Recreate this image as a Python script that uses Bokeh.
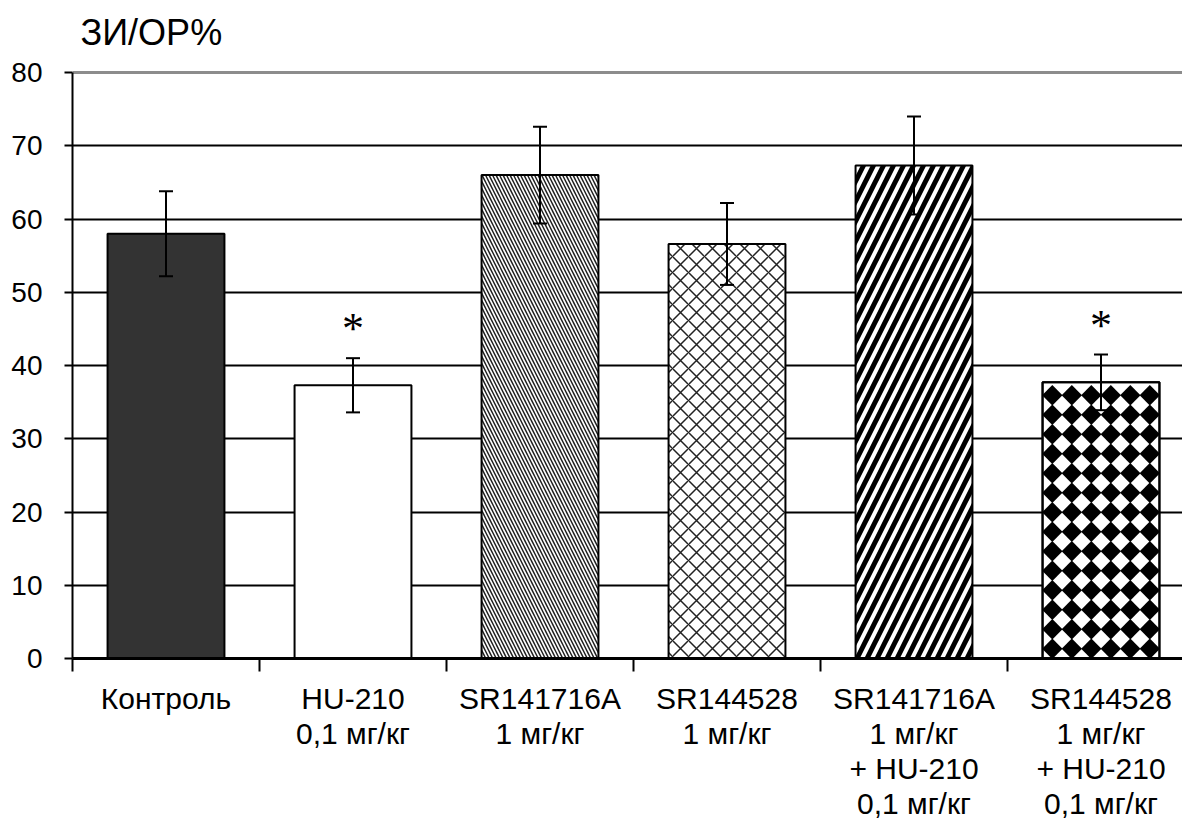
import math
from bokeh.plotting import figure
from bokeh.models import Range1d, FixedTicker, Whisker, ColumnDataSource, Span, TeeHead
from bokeh.core.properties import value
from bokeh.embed import file_html
from bokeh.resources import INLINE

categories = ["Контроль", "HU-210\n0,1 мг/кг", "SR141716A\n1 мг/кг", "SR144528\n1 мг/кг",
              "SR141716A\n1 мг/кг\n+ HU-210\n0,1 мг/кг", "SR144528\n1 мг/кг\n+ HU-210\n0,1 мг/кг"]
means = [58.0, 37.3, 66.0, 56.6, 67.3, 37.7]
errors = [5.8, 3.7, 6.6, 5.6, 6.7, 3.8]
significance = ["", "*", "", "", "", "*"]
y_ticks = [0, 10, 20, 30, 40, 50, 60, 70, 80]
y_label = "ЗИ/ОР%"

# styles (not data)
fills = ["#333333", "white", "white", "white", "white", "white"]
hatches = [None, None, "left_diagonal_line", "diagonal_cross", "right_diagonal_line", "diamonds"]
hatch_scales = [10, 10, 7, 16, 20, 19.5]
hatch_weights = [1, 1, 1.5, 1.5, 5, 1]
hatch_colors = ["black", "black", "#222222", "#222222", "black", "black"]
BAR_W = 0.625

FONT = "Liberation Sans"
n = len(categories)
xs = [i + 0.5 for i in range(n)]

# layout: frame spans from top of canvas to x axis; y range extended above 80 to host the unit label
FIG_W, FIG_H, LEFT, BOTTOM = 1182, 823, 72, 165
PX_Y = 586 / y_ticks[-1]          # pixels per y unit
PX_X = 187.0                      # pixels per category
frame_h = FIG_H - BOTTOM
y_top = frame_h / PX_Y
x_end = (FIG_W - LEFT) / PX_X

p = figure(width=FIG_W, height=FIG_H, output_backend="svg", toolbar_location=None,
           x_range=Range1d(0, x_end), y_range=Range1d(0, y_top),
           min_border_left=LEFT, min_border_top=0, min_border_right=0, min_border_bottom=BOTTOM)
p.outline_line_color = None
p.background_fill_color = "white"

# grid
p.xgrid.visible = False
p.ygrid.ticker = FixedTicker(ticks=y_ticks[1:-1])
p.ygrid.grid_line_color = "black"
p.ygrid.grid_line_width = 2
p.add_layout(Span(location=y_ticks[-1], dimension="width", line_color="#8c8c8c", line_width=3,
                  level="underlay"))

for i in range(n):
    kw = {}
    if hatches[i] and hatches[i] != "diamonds":
        kw = dict(hatch_pattern=hatches[i], hatch_scale=hatch_scales[i],
                  hatch_weight=hatch_weights[i], hatch_color=hatch_colors[i])
    p.vbar(x=[xs[i]], top=[means[i]], width=BAR_W, bottom=0,
           fill_color=fills[i], line_color="black", line_width=2, **kw)
    if hatches[i] == "diamonds":
        s = hatch_scales[i]
        ncol = int(round(BAR_W * PX_X / s))
        nrow = int(means[i] * PX_Y // s)
        left = xs[i] - BAR_W / 2
        dx, dy = [], []
        for r in range(nrow):
            for c in range(ncol):
                dx.append(left + (c + 0.5) * s / PX_X)
                dy.append((r + 0.5) * s / PX_Y)
        p.scatter(x=dx, y=dy, marker="square", size=s / math.sqrt(2) + 0.6, angle=math.pi / 4,
                  fill_color=hatch_colors[i], line_color=None)
        p.vbar(x=[xs[i]], top=[means[i]], width=BAR_W, bottom=0,
               fill_color=None, line_color="black", line_width=2)

src = ColumnDataSource(dict(x=xs, upper=[m + e for m, e in zip(means, errors)],
                            lower=[m - e for m, e in zip(means, errors)]))
wh = Whisker(base="x", upper="upper", lower="lower", source=src, line_width=2, line_color="black",
             upper_head=TeeHead(size=14, line_width=2, line_color="black"),
             lower_head=TeeHead(size=14, line_width=2, line_color="black"), level="overlay")
p.add_layout(wh)

ast_src = ColumnDataSource(dict(x=[xs[i] for i in range(n) if significance[i]],
                                y=[means[i] + errors[i] + 4.0 for i in range(n) if significance[i]],
                                t=[significance[i] for i in range(n) if significance[i]]))
p.text(x="x", y="y", text="t", source=ast_src, text_font=value("Liberation Serif"),
       text_font_size="44px", text_align="center", text_baseline="middle", text_color="black")

# unit label above the axis
p.text(x=[0], y=[y_ticks[-1] + 40 / PX_Y], text=[y_label], x_offset=8,
       text_font=value(FONT), text_font_size="36px", text_align="left",
       text_baseline="middle", text_color="black")

# y axis
ya = p.yaxis[0]
ya.ticker = FixedTicker(ticks=y_ticks)
ya.bounds = (y_ticks[0], y_ticks[-1])
ya.axis_line_width = 2
ya.axis_line_color = "black"
ya.major_tick_out = 8
ya.major_tick_in = 0
ya.major_tick_line_width = 2
ya.minor_tick_out = 0
ya.minor_tick_in = 0
ya.major_label_standoff = 22
ya.major_label_text_font = FONT
ya.major_label_text_font_size = "28px"
ya.major_label_text_color = "black"

# x axis
xa = p.xaxis[0]
xa.ticker = FixedTicker(ticks=xs, minor_ticks=list(range(n + 1)))
xa.major_label_overrides = {x: c for x, c in zip(xs, categories)}
xa.axis_line_width = 3
xa.axis_line_color = "black"
xa.major_tick_out = 0
xa.major_tick_in = 0
xa.minor_tick_out = 13
xa.minor_tick_in = 0
xa.minor_tick_line_width = 2
xa.minor_tick_line_color = "black"
xa.major_label_standoff = 10
xa.major_label_text_font = FONT
xa.major_label_text_font_size = "30px"
xa.major_label_text_color = "black"
xa.major_label_text_line_height = 1.07

open("out.html", "w").write(file_html(p, INLINE))
